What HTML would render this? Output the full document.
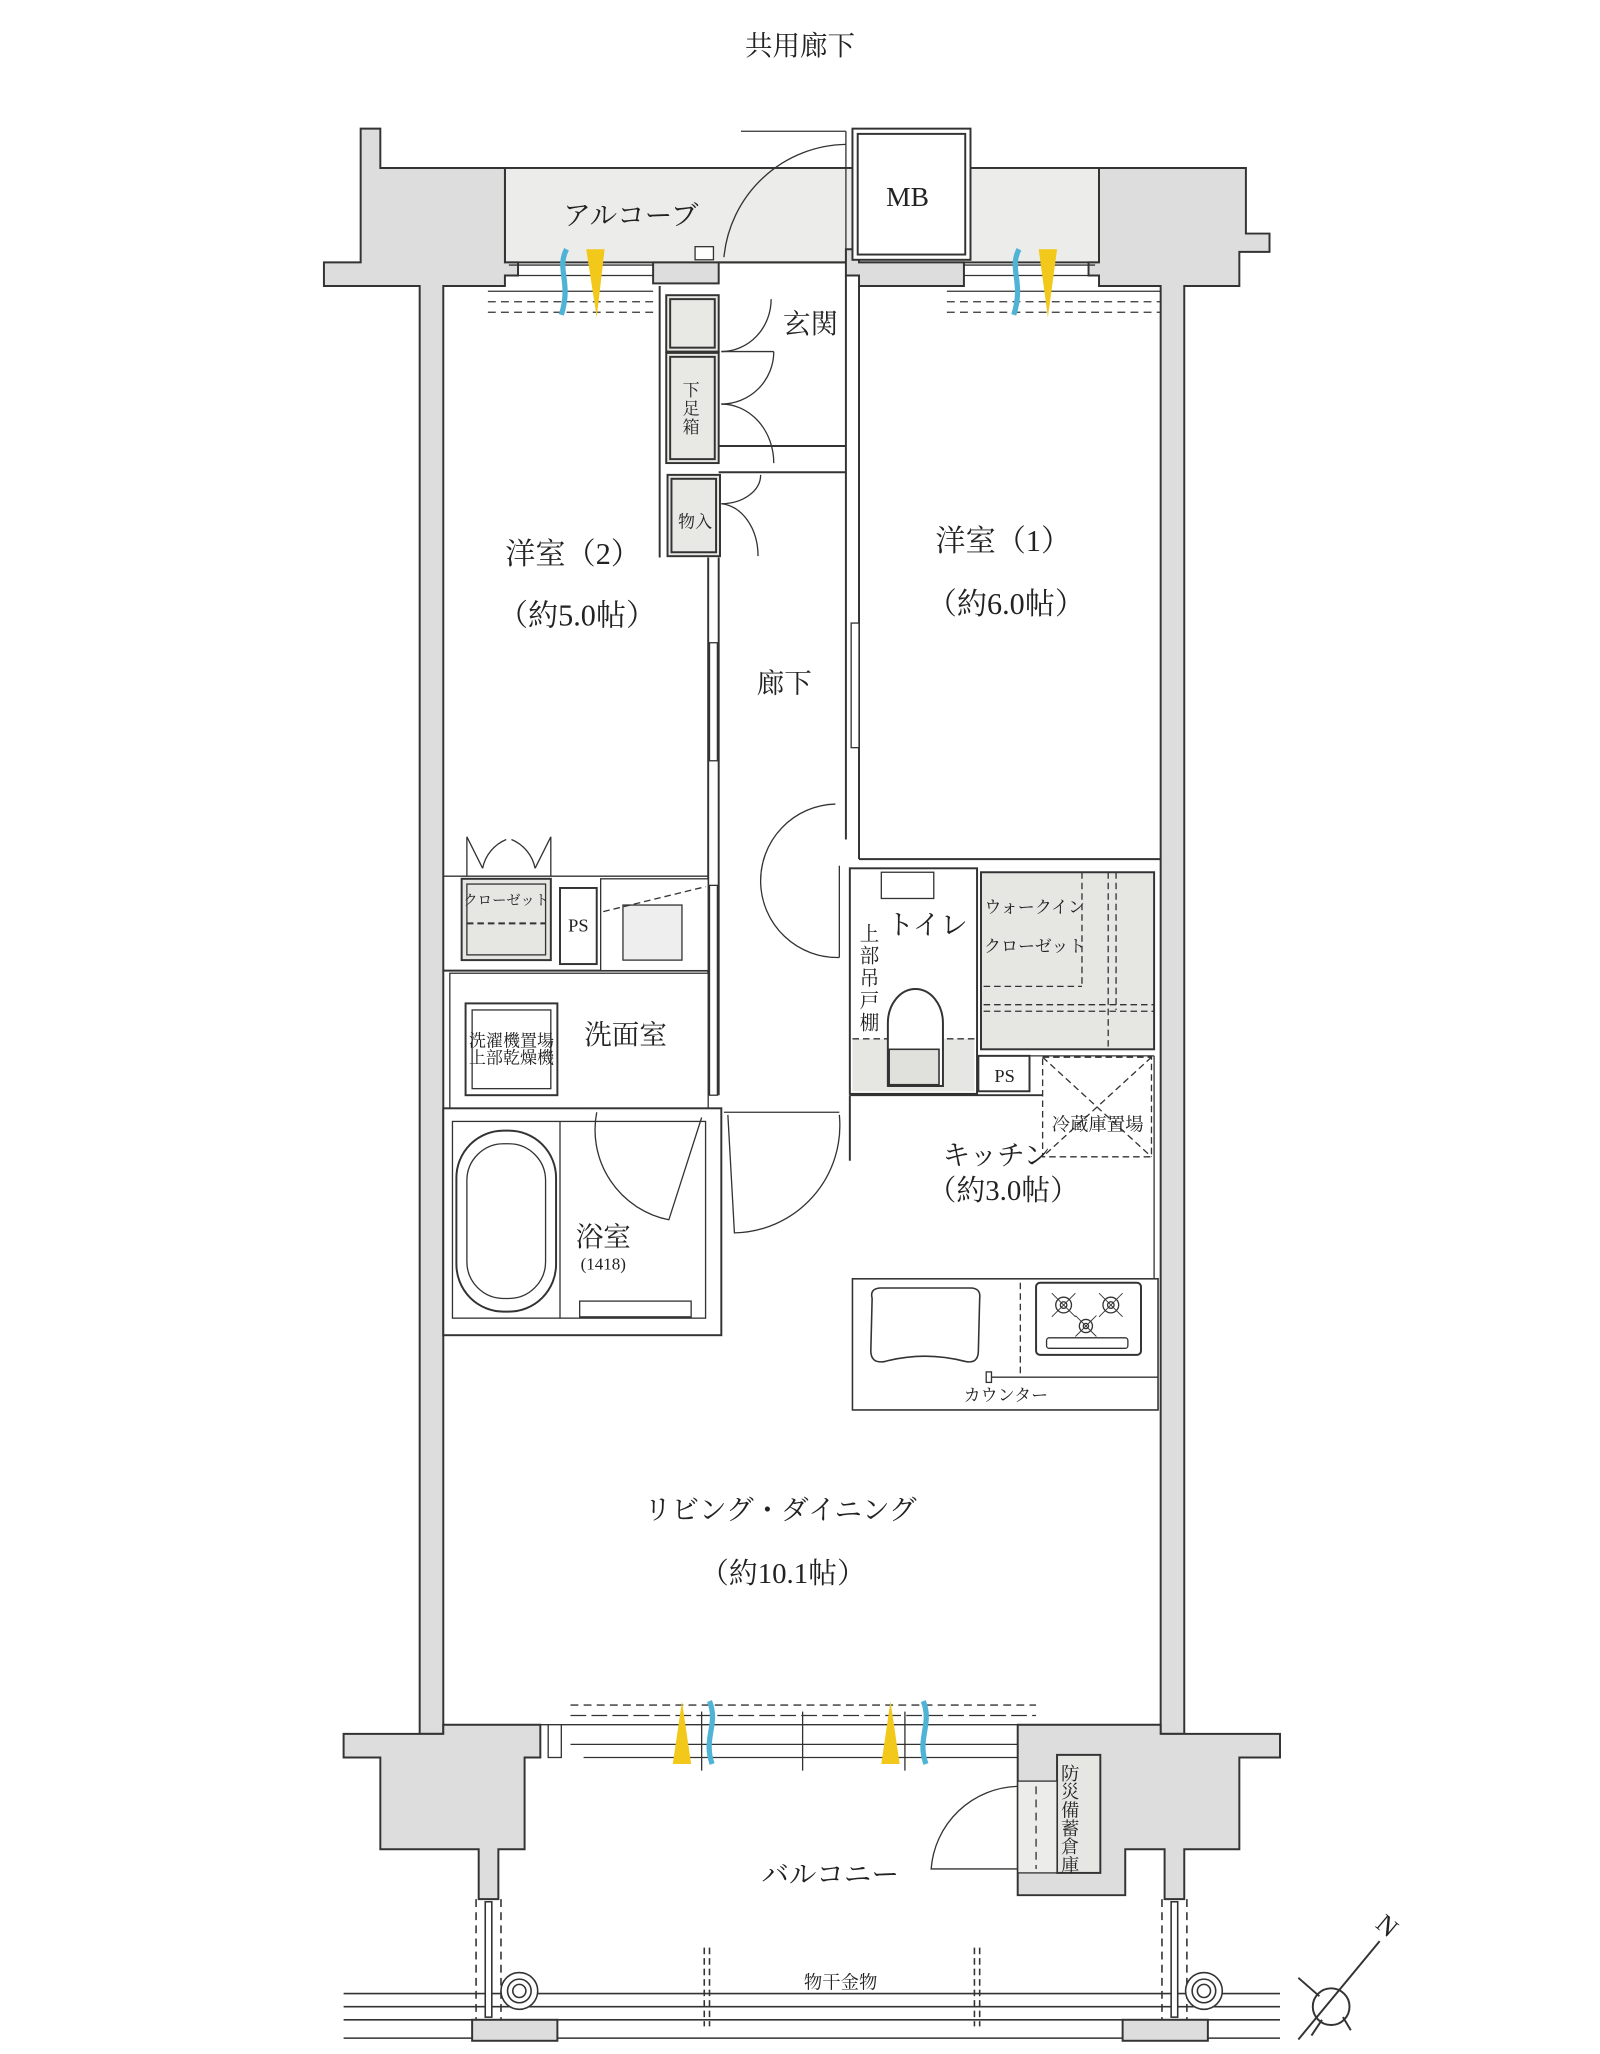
<!DOCTYPE html>
<html><head><meta charset="utf-8">
<style>
html,body{margin:0;padding:0;background:#fff;}
svg{display:block;}
text{font-family:"Liberation Serif","Noto Serif CJK SC","Noto Serif CJK JP",serif;fill:#222;}
</style></head>
<body>
<svg width="1600" height="2054" viewBox="0 0 1220 1566" xmlns="http://www.w3.org/2000/svg">
<g stroke="#333" stroke-width="1.5" fill="none">
<rect x="385" y="128" width="453" height="72" fill="#ececea"/>
<polygon points="247,200 275,200 275,98 290,98 290,128 385,128 385,200 395,200 395,210 385,210 385,218 338,218 338,1322 320,1322 320,218 247,218" fill="#dcdddc"/>
<polygon points="838,128 950,128 950,178 968,178 968,192 945,192 945,218 903,218 903,1322 885,1322 885,218 838,218 838,210 830,210 830,200 838,200" fill="#dcdddc"/>
<rect x="498" y="200" width="50" height="16" fill="#dcdddc"/>
<polygon points="645,190 655,190 655,200 735,200 735,218 655,218 655,210 645,210" fill="#dcdddc"/>
<rect x="650" y="98" width="90" height="100" fill="#fff"/>
<rect x="654" y="102" width="82" height="92" fill="none"/>
<line x1="548" y1="200" x2="645" y2="200"/>
<path d="M645,110 A95,95 0 0 0 552,196" stroke-width="1"/>
<line x1="645" y1="100" x2="645" y2="195" stroke-width="1"/>
<line x1="565" y1="100" x2="645" y2="100" stroke-width="1"/>
<rect x="530" y="188" width="14" height="10" fill="#fff" stroke-width="1"/>

<g stroke-width="1">
<line x1="388" y1="202" x2="498" y2="202"/><line x1="388" y1="210" x2="498" y2="210"/>
<line x1="372" y1="222" x2="498" y2="222"/><line x1="372" y1="230" x2="498" y2="230" stroke-dasharray="6,4"/>
<line x1="372" y1="238" x2="498" y2="238" stroke-dasharray="6,4"/>
<line x1="735" y1="202" x2="835" y2="202"/><line x1="735" y1="210" x2="835" y2="210"/>
<line x1="722" y1="222" x2="885" y2="222"/><line x1="722" y1="230" x2="885" y2="230" stroke-dasharray="6,4"/>
<line x1="722" y1="238" x2="885" y2="238" stroke-dasharray="6,4"/>
</g>
<polygon points="447,190 461,190 455,242" fill="#f2c81a" stroke="none"/>
<path d="M432,190 C424,205 436,215 428,240" stroke="#4fb3d6" stroke-width="4"/>
<polygon points="792,190 806,190 799,242" fill="#f2c81a" stroke="none"/>
<path d="M777,190 C769,205 781,215 773,240" stroke="#4fb3d6" stroke-width="4"/>

<line x1="645" y1="210" x2="645" y2="640"/><line x1="655" y1="218" x2="655" y2="655"/>
<line x1="540" y1="425" x2="540" y2="835"/><line x1="548" y1="425" x2="548" y2="835"/>
<line x1="503" y1="218" x2="503" y2="425"/>
<line x1="548" y1="340" x2="645" y2="340"/><line x1="548" y1="360" x2="645" y2="360"/>
<g fill="#e8e8e5">
<rect x="508" y="225" width="40" height="43"/><rect x="511" y="228" width="34" height="37"/>
<rect x="508" y="269" width="40" height="84"/><rect x="511" y="272" width="34" height="78"/>
<rect x="509" y="362" width="40" height="62"/><rect x="512" y="365" width="34" height="56"/>
</g>
<g stroke-width="1">
<path d="M588,228 A38,40 0 0 1 550,268"/><path d="M590,268 L550,268 M590,268 A40,40 0 0 1 550,308"/><path d="M550,308 A40,45 0 0 1 590,353"/>
<path d="M580,362 A30,22 0 0 1 550,384"/><path d="M550,384 A30,40 0 0 1 578,424"/>
<path d="M637,613 A58,58 0 0 0 640,730"/>
<line x1="640" y1="660" x2="640" y2="730"/>
<rect x="541" y="490" width="6" height="90" fill="#fff"/>
<rect x="649" y="475" width="6" height="95" fill="#fff"/>
<rect x="541" y="675" width="6" height="160" fill="#fff"/>
</g>

<line x1="338" y1="668" x2="540" y2="668" stroke-width="1"/>
<line x1="338" y1="740" x2="540" y2="740"/>
<rect x="352" y="670" width="68" height="62" fill="#e6e6e3"/>
<rect x="356" y="674" width="60" height="54" fill="#e6e6e3" stroke-width="1"/>
<line x1="356" y1="704" x2="416" y2="704" stroke-dasharray="5,3" stroke-width="1.5"/>
<path d="M356,668 L356,638 L368,662 M420,668 L420,638 L408,662 M368,662 A30,30 0 0 1 386,640 M408,662 A30,30 0 0 0 390,640" stroke-width="1"/>
<rect x="427" y="677" width="28" height="58" fill="#fff"/>
<rect x="458" y="670" width="82" height="70" fill="#fff" stroke-width="1"/>
<rect x="475" y="690" width="45" height="42" fill="#eee" stroke-width="1"/>
<line x1="460" y1="695" x2="538" y2="676" stroke-dasharray="5,3" stroke-width="1"/>
<rect x="343" y="742" width="197" height="103" fill="#fff" stroke-width="1"/>
<rect x="355" y="765" width="70" height="70" fill="#fff"/>
<rect x="360" y="770" width="60" height="60" fill="#fff" stroke-width="1"/>
<rect x="338" y="845" width="212" height="173" fill="#fff"/>
<rect x="345" y="855" width="193" height="150" fill="#fff" stroke-width="1"/>
<line x1="427" y1="855" x2="427" y2="1005" stroke-width="1"/>
<rect x="348" y="862" width="76" height="138" rx="36" fill="#fff"/>
<rect x="356" y="872" width="60" height="118" rx="28" fill="none" stroke-width="1"/>
<rect x="442" y="992" width="85" height="12" fill="#fff" stroke-width="1"/>
<line x1="450" y1="845" x2="540" y2="845" stroke-width="1"/>
<path d="M455,848 A70,70 0 0 0 510,930 L535,852" stroke-width="1"/>
<path d="M552,848 L640,848 M555,850 L560,940 A82,82 0 0 0 640,850" stroke-width="1"/>

<line x1="655" y1="655" x2="885" y2="655"/>
<rect x="648" y="662" width="97" height="172" fill="#fff"/>
<rect x="650" y="792" width="93" height="40" fill="#e6e6e3" stroke="none"/>
<line x1="650" y1="792" x2="743" y2="792" stroke-dasharray="5,3" stroke-width="1"/>
<rect x="672" y="665" width="40" height="20" fill="#fff" stroke-width="1"/>
<path d="M677,828 L677,780 A21,26 0 0 1 719,780 L719,828 Z" fill="#fff"/>
<rect x="678" y="800" width="38" height="27" fill="#e0e0dc" stroke-width="1.2"/>
<line x1="648" y1="835" x2="795" y2="835"/>
<line x1="648" y1="835" x2="648" y2="885"/>
<rect x="748" y="665" width="132" height="135" fill="#e6e6e3"/>
<g stroke-dasharray="5,3" stroke-width="1"><line x1="825" y1="665" x2="825" y2="752"/><line x1="750" y1="752" x2="825" y2="752"/>
<line x1="845" y1="665" x2="845" y2="800"/><line x1="851" y1="665" x2="851" y2="770"/><line x1="750" y1="766" x2="880" y2="766"/><line x1="750" y1="771" x2="880" y2="771"/></g>
<rect x="746" y="805" width="39" height="27" fill="#fff"/>
<rect x="795" y="806" width="83" height="76" fill="none" stroke-dasharray="5,3" stroke-width="1"/>
<line x1="795" y1="806" x2="878" y2="882" stroke-dasharray="5,3" stroke-width="1"/>
<line x1="878" y1="806" x2="795" y2="882" stroke-dasharray="5,3" stroke-width="1"/>
<line x1="785" y1="805" x2="880" y2="805" stroke-width="1"/>
<line x1="880" y1="805" x2="880" y2="975" stroke-width="1"/>
<rect x="650" y="975" width="233" height="100" fill="#fff" stroke-width="1.2"/>
<path d="M665,990 Q663,982 672,982 L740,982 Q748,982 747,990 L746,1030 Q746,1040 736,1038 Q705,1030 675,1038 Q664,1040 664,1030 Z" fill="#fff" stroke-width="1.2"/>
<line x1="778" y1="978" x2="778" y2="1050" stroke-dasharray="5,3" stroke-width="1"/>
<rect x="790" y="978" width="80" height="55" rx="3" fill="#fff" stroke-width="1.5"/>
<rect x="798" y="1020" width="62" height="8" rx="2" fill="#fff" stroke-width="1"/>
<g stroke-width="1"><circle cx="811" cy="995" r="6"/><circle cx="811" cy="995" r="2.5"/><circle cx="847" cy="995" r="6"/><circle cx="847" cy="995" r="2.5"/><circle cx="828" cy="1011" r="5"/><circle cx="828" cy="1011" r="2"/>
<path d="M802,986 L820,1004 M820,986 L802,1004 M838,986 L856,1004 M856,986 L838,1004 M820,1003 L836,1019 M836,1003 L820,1019" stroke-width="0.7"/></g>
<line x1="755" y1="1050" x2="883" y2="1050" stroke-width="1"/>
<rect x="752" y="1046" width="4" height="8" fill="#fff" stroke-width="1"/>

<polygon points="262,1322 338,1322 338,1315 412,1315 412,1340 400,1340 400,1410 380,1410 380,1448 365,1448 365,1410 290,1410 290,1340 262,1340" fill="#dcdddc"/>
<polygon points="776,1315 885,1315 885,1322 976,1322 976,1340 945,1340 945,1410 903,1410 903,1448 888,1448 888,1410 858,1410 858,1445 776,1445 776,1340" fill="#dcdddc"/>
<rect x="806" y="1338" width="33" height="90" fill="#e6e6e3"/>
<rect x="776" y="1358" width="30" height="70" fill="#ececea" stroke-width="1"/>
<line x1="790" y1="1362" x2="790" y2="1425" stroke-dasharray="6,4" stroke-width="1"/>
<path d="M776,1362 A68,68 0 0 0 710,1425 L776,1425" stroke-width="1"/>
<g stroke-width="1">
<line x1="338" y1="1315" x2="885" y2="1315"/>
<line x1="435" y1="1300" x2="790" y2="1300" stroke-dasharray="6,4"/>
<line x1="435" y1="1308" x2="790" y2="1308" stroke-dasharray="12,4"/>
<line x1="435" y1="1330" x2="776" y2="1330"/>
<line x1="445" y1="1340" x2="776" y2="1340"/>
<rect x="418" y="1315" width="10" height="25" fill="#fff"/>
<line x1="535" y1="1305" x2="535" y2="1350"/><line x1="612" y1="1305" x2="612" y2="1350"/><line x1="690" y1="1305" x2="690" y2="1350"/>
</g>
<polygon points="513,1345 527,1345 520,1297" fill="#f2c81a" stroke="none"/>
<path d="M541,1297 C548,1315 536,1325 543,1345" stroke="#4fb3d6" stroke-width="4"/>
<polygon points="672,1345 686,1345 679,1297" fill="#f2c81a" stroke="none"/>
<path d="M704,1297 C711,1315 699,1325 706,1345" stroke="#4fb3d6" stroke-width="4"/>

<g stroke-width="1.2">
<line x1="262" y1="1520" x2="976" y2="1520"/><line x1="262" y1="1530" x2="976" y2="1530"/>
<line x1="262" y1="1540" x2="976" y2="1540"/><line x1="262" y1="1554" x2="976" y2="1554"/>
<line x1="363" y1="1448" x2="363" y2="1540" stroke-dasharray="6,4"/><line x1="382" y1="1448" x2="382" y2="1540" stroke-dasharray="6,4"/>
<line x1="886" y1="1448" x2="886" y2="1540" stroke-dasharray="6,4"/><line x1="905" y1="1448" x2="905" y2="1540" stroke-dasharray="6,4"/>
<rect x="370" y="1450" width="5" height="88" fill="#fff"/><rect x="893" y="1450" width="5" height="88" fill="#fff"/>
<line x1="537" y1="1485" x2="537" y2="1545" stroke-dasharray="5,3"/><line x1="541" y1="1485" x2="541" y2="1545" stroke-dasharray="5,3"/>
<line x1="743" y1="1485" x2="743" y2="1545" stroke-dasharray="5,3"/><line x1="747" y1="1485" x2="747" y2="1545" stroke-dasharray="5,3"/>
<circle cx="396" cy="1518" r="14" fill="#fff"/><circle cx="396" cy="1518" r="9"/><circle cx="396" cy="1518" r="5"/>
<circle cx="918" cy="1518" r="14" fill="#fff"/><circle cx="918" cy="1518" r="9"/><circle cx="918" cy="1518" r="5"/>
</g>
<rect x="360" y="1540" width="65" height="16" fill="#dcdddc"/>
<rect x="856" y="1540" width="65" height="16" fill="#dcdddc"/>

<circle cx="1015" cy="1530" r="14" fill="#fff" stroke-width="1.5"/>
<line x1="990" y1="1555" x2="1052" y2="1480" stroke-width="1.5"/>
<path d="M990,1508 L1006,1522 M1000,1552 L1008,1540 M1030,1548 L1024,1538" stroke-width="1.5"/>
</g>

<g font-size="21">
<text x="610" y="42" text-anchor="middle">共用廊下</text>
<text x="481" y="171" text-anchor="middle">アルコーブ</text>
<text x="692" y="157" text-anchor="middle">MB</text>
<text x="618" y="254" text-anchor="middle">玄関</text>
<text x="437" y="430" text-anchor="middle" font-size="23">洋室（2）</text>
<text x="440" y="477" text-anchor="middle" font-size="23">（約5.0帖）</text>
<text x="765" y="420" text-anchor="middle" font-size="23">洋室（1）</text>
<text x="767" y="468" text-anchor="middle" font-size="23">（約6.0帖）</text>
<text x="598" y="528" text-anchor="middle">廊下</text>
<text x="707" y="712" text-anchor="middle">トイレ</text>
<text x="477" y="796" text-anchor="middle">洗面室</text>
<text x="460" y="950" text-anchor="middle">浴室</text>
<text x="760" y="888" text-anchor="middle">キッチン</text>
<text x="765" y="915" text-anchor="middle" font-size="22">（約3.0帖）</text>
<text x="595" y="1158" text-anchor="middle">リビング・ダイニング</text>
<text x="597" y="1207" text-anchor="middle" font-size="22">（約10.1帖）</text>
<text x="633" y="1436" text-anchor="middle">バルコニー</text>
</g>
<g font-size="13" text-anchor="middle">
<text x="527" y="302">下</text><text x="527" y="316">足</text><text x="527" y="330">箱</text>
<text x="530" y="402">物入</text>
<text x="386" y="690" font-size="11">クローゼット</text>
<text x="441" y="710" font-size="14">PS</text>
<text x="390" y="798">洗濯機置場</text>
<text x="390" y="811">上部乾燥機</text>
<text x="460" y="968" font-size="13">(1418)</text>
<text x="663" y="717" font-size="15">上</text><text x="663" y="734" font-size="15">部</text><text x="663" y="751" font-size="15">吊</text><text x="663" y="768" font-size="15">戸</text><text x="663" y="785" font-size="15">棚</text>
<text x="789" y="696">ウォークイン</text>
<text x="789" y="726">クローゼット</text>
<text x="766" y="825" font-size="14">PS</text>
<text x="837" y="862" font-size="14">冷蔵庫置場</text>
<text x="767" y="1068">カウンター</text>
<text x="816" y="1357" font-size="14">防</text><text x="816" y="1371" font-size="14">災</text><text x="816" y="1385" font-size="14">備</text><text x="816" y="1399" font-size="14">蓄</text><text x="816" y="1413" font-size="14">倉</text><text x="816" y="1427" font-size="14">庫</text>
<text x="641" y="1516" font-size="14">物干金物</text>
<text x="1058" y="1475" font-size="20" transform="rotate(40 1058 1468)">N</text>
</g>
</svg>
</body></html>
